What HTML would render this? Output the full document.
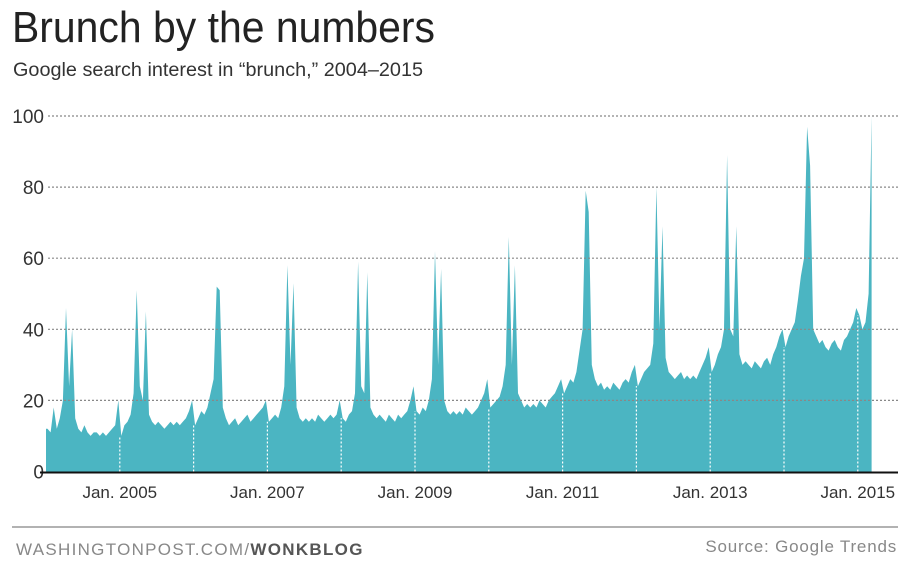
<!DOCTYPE html>
<html><head><meta charset="utf-8"><style>
html,body{margin:0;padding:0;background:#fff;}
svg{display:block;font-family:"Liberation Sans",sans-serif;}
</style></head><body>
<svg id="chart" width="912" height="570" viewBox="0 0 912 570" xmlns="http://www.w3.org/2000/svg">
<text x="12" y="42" font-size="44" fill="#222" textLength="423" lengthAdjust="spacingAndGlyphs" font-weight="300">Brunch by the numbers</text>
<text x="13" y="76" font-size="19" fill="#333" textLength="410" lengthAdjust="spacingAndGlyphs">Google search interest in “brunch,” 2004–2015</text>
<g id="plot"></g>
<line x1="12" y1="527" x2="898" y2="527" stroke="#999" stroke-width="1.5"/>
<text x="16" y="555" font-size="17" fill="#888" letter-spacing="1.3">WASHINGTONPOST.COM/<tspan font-weight="bold" fill="#555">WONKBLOG</tspan></text>
<text x="897" y="552" font-size="17" fill="#888" text-anchor="end" letter-spacing="0.8">Source: Google Trends</text>
</svg>
<script>
const startYear = 2004;
const yTicks = [0,20,40,60,80,100];
const xTickYears = [2005,2007,2009,2011,2013,2015];
const xTickLabels = ["Jan. 2005","Jan. 2007","Jan. 2009","Jan. 2011","Jan. 2013","Jan. 2015"];
// semi-monthly search interest values
const v2004 = [12,11,18,12,15,20,46,24,40,15,12,11,13,11,10,11,11,10,11,10,11,12,13,20];
const v2005 = [10,13,14,16,22,51,24,20,45,16,14,13,14,13,12,13,14,13,14,13,14,15,17,20];
const v2006 = [13,15,17,16,18,22,26,52,51,18,15,13,14,15,13,14,15,16,14,15,16,17,18,20];
const v2007 = [14,15,16,15,18,24,58,30,53,18,15,14,15,14,15,14,16,15,14,15,16,15,16,20];
const v2008 = [15,14,16,17,22,59,24,22,56,18,16,15,16,15,14,16,15,14,16,15,16,17,20,24];
const v2009 = [17,16,18,17,20,26,62,30,57,20,17,16,17,16,17,16,18,17,16,17,18,20,22,26];
const v2010 = [18,19,20,21,24,30,66,30,58,22,20,18,19,18,19,18,20,19,18,20,21,22,24,26];
const v2011 = [22,24,26,25,28,34,40,79,73,30,26,24,25,23,24,23,25,24,23,25,26,25,28,30];
const v2012 = [24,26,28,29,30,36,80,40,69,32,28,27,26,27,28,26,27,26,27,26,28,30,32,35];
const v2013 = [28,30,33,35,40,89,40,38,69,33,30,31,30,29,31,30,29,31,32,30,33,35,38,40];
const v2014 = [35,38,40,42,48,55,60,97,86,40,38,36,37,35,34,36,37,35,34,37,38,40,42,46];
const v2015 = [44,40,42,50,100];
const series = [v2004,v2005,v2006,v2007,v2008,v2009,v2010,v2011,v2012,v2013,v2014,v2015];

const NS="http://www.w3.org/2000/svg";
const g=document.getElementById('plot');
const x0=46, yearW=73.8, y0=471.5, yTop=116;
const xScale=t=>x0+(t-startYear)*yearW;
const yScale=v=>y0-(v/100)*(y0-yTop);
function mk(tag,attrs){const e=document.createElementNS(NS,tag);for(const k in attrs)e.setAttribute(k,attrs[k]);g.appendChild(e);return e;}

// area
const pts=[];
series.forEach((arr,yi)=>arr.forEach((v,i)=>pts.push([xScale(startYear+yi+(i+0.5)/24),yScale(v)])));
let d="M"+x0+","+y0+" L"+x0+","+pts[0][1].toFixed(1);
pts.forEach(p=>d+=" L"+p[0].toFixed(1)+","+p[1].toFixed(1));
d+=" L"+pts[pts.length-1][0].toFixed(1)+","+y0+" Z";
const area=mk('path',{d:d,fill:'#4bb5c2'});



// year dividers
for(let yr=startYear+1;yr<=2015;yr++){
  const xv=xScale(yr);
  const ln=mk('line',{x1:xv,x2:xv,y1:y0,y2:yScale(series[yr-startYear][0]),stroke:'#fff','stroke-width':1.2,'stroke-dasharray':'2,2'});
  
  
}
// grid + y labels
yTicks.forEach(t=>{
  const yy=yScale(t);
  if(t>0){
    const gl=mk('line',{x1:48,x2:898,y1:yy,y2:yy,stroke:'#888','stroke-width':1.2,'stroke-dasharray':'2,2'});
    
    
  }
  const tx=mk('text',{x:44,y:yy+7,'font-size':19,fill:'#333','text-anchor':'end'});
  tx.textContent=t;
  
  
});
// axis
const ax=mk('line',{x1:40,x2:898,y1:y0+1,y2:y0+1,stroke:'#111','stroke-width':2});


xTickYears.forEach((yr,i)=>{
  const tx=mk('text',{x:xScale(yr),y:498,'font-size':17,fill:'#333','text-anchor':'middle'});
  tx.textContent=xTickLabels[i];
  
  
});
</script>
</body></html>
